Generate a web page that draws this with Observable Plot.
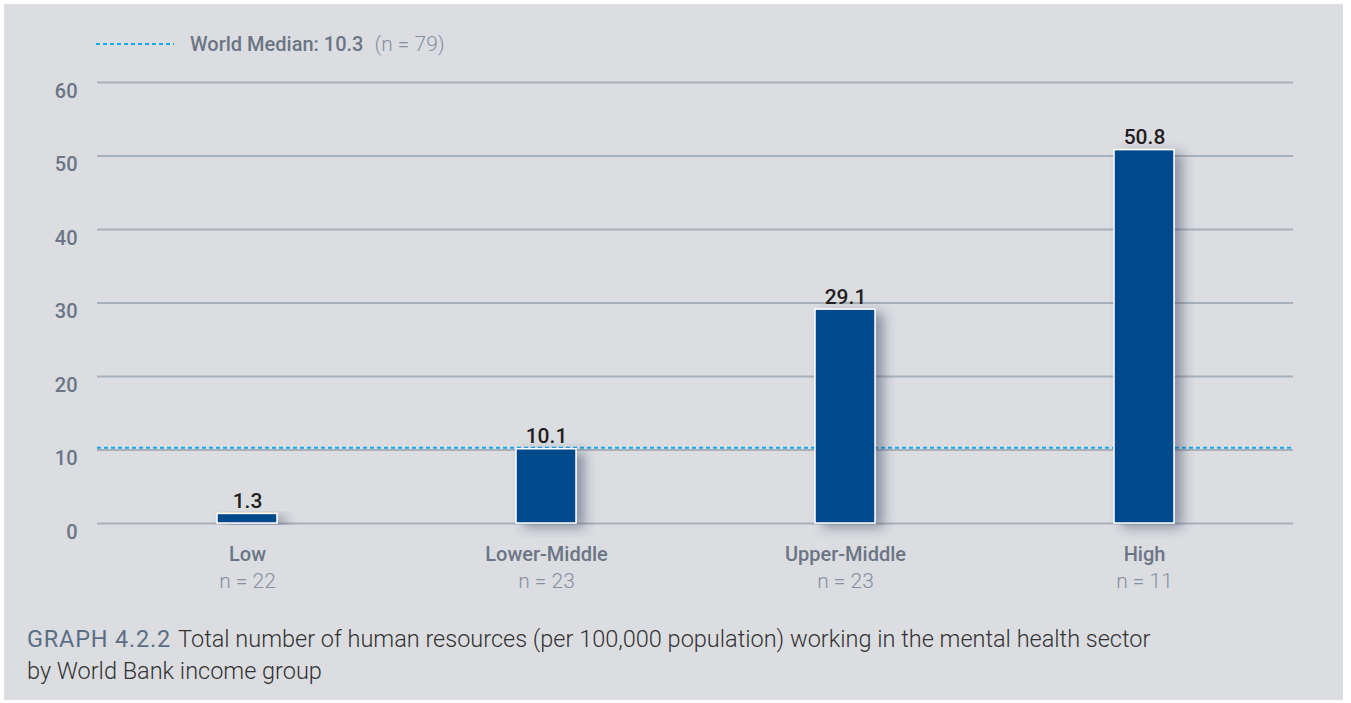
<!DOCTYPE html>
<html><head><meta charset="utf-8">
<script src="https://cdn.jsdelivr.net/npm/d3@7"></script>
<script src="https://cdn.jsdelivr.net/npm/@observablehq/plot@0.6"></script>
<style>
body{margin:0;background:#fff;font-family:Roboto,"Liberation Sans",sans-serif;}
#panel{position:absolute;left:4px;top:4px;width:1339px;height:696px;background:#dcdde1;overflow:hidden;}
#chart{position:absolute;left:-4px;top:56px;}
#chart svg{max-width:none !important;}
#legend{position:absolute;left:92px;top:24px;height:32px;display:flex;align-items:center;white-space:nowrap;}
#legend svg{display:block;margin-right:16px;}
#legend .b{font-size:20px;font-weight:500;color:#6b7585;}
#legend .n{font-size:21px;font-weight:300;color:#8790a0;margin-left:11px;}
#caption{position:absolute;left:23px;top:619px;font-size:23.5px;line-height:32px;color:#333;font-weight:300;white-space:nowrap;}
#caption .g{color:#5a6f87;font-weight:400;margin-right:7px;letter-spacing:0.8px;}
</style>
</head><body>
<div id="panel">
  <div id="legend"></div>
  <div id="chart"></div>
  <div id="caption"></div>
</div>
<script>
const categories = ["Low", "Lower-Middle", "Upper-Middle", "High"];
const values = [1.3, 10.1, 29.1, 50.8];
const counts = ["n = 22", "n = 23", "n = 23", "n = 11"];
const yTicks = [0, 10, 20, 30, 40, 50, 60];
const worldMedian = 10.3;
const worldN = 79;
const captionLabel = "GRAPH 4.2.2";
const captionText = ["Total number of human resources (per 100,000 population) working in the mental health sector", "by World Bank income group"];

const rows = categories.map((c, i) => ({category: c, value: values[i], n: counts[i]}));

const barColor = "#004a8c";
const medianColor = "#14a9e8";
const gridColor = "#a8b0b9";
const axisText = "#6b7585";

const chart = Plot.plot({
  width: 1351,
  height: 540,
  marginLeft: 97,
  marginRight: 58,
  marginTop: 22,
  marginBottom: 77,
  style: {fontFamily: "Roboto, 'Liberation Sans', sans-serif", background: "transparent", overflow: "visible", maxWidth: "none"},
  x: {domain: categories, paddingInner: 0.8, paddingOuter: 0.4, axis: null},
  y: {domain: [0, 60]},
  marks: [
    Plot.ruleY(yTicks, {stroke: gridColor, strokeWidth: 2}),
    Plot.axisY({ticks: yTicks, tickSize: 0, tickPadding: 20, fontSize: 20, fontWeight: 500, fill: axisText, dy: 9, label: null}),
    Plot.ruleY([worldMedian], {stroke: medianColor, strokeWidth: 2, strokeDasharray: "4,3"}),
    Plot.barY(rows, {x: "category", y: "value", fill: barColor, stroke: "white", strokeWidth: 1.5}),
    Plot.text(rows, {x: "category", y: "value", text: d => d.value.toFixed(1), lineAnchor: "bottom", dy: -6, fontSize: 21, fontWeight: 500, fill: "#231f20"}),
    Plot.text(rows, {x: "category", frameAnchor: "bottom", lineAnchor: "middle", text: "category", dy: 31, fontSize: 20, fontWeight: 500, fill: axisText}),
    Plot.text(rows, {x: "category", frameAnchor: "bottom", lineAnchor: "middle", text: "n", dy: 58, fontSize: 21, fontWeight: 300, fill: "#8790a0"})
  ]
});

// drop shadow on bars
const svg = d3.select(chart);
const defs = svg.insert("defs", ":first-child");
const f = defs.append("filter").attr("id", "barShadow").attr("x", "-50%").attr("y", "-20%").attr("width", "200%").attr("height", "140%");
f.append("feDropShadow").attr("dx", 8).attr("dy", 4).attr("stdDeviation", 6).attr("flood-color", "#2b3a5a").attr("flood-opacity", 0.45);
svg.selectAll('g[aria-label="bar"] rect').attr("filter", "url(#barShadow)");

document.getElementById("chart").appendChild(chart);

// legend
const legend = d3.select("#legend");
const ls = legend.append("svg").attr("width", 78).attr("height", 4);
ls.append("line").attr("x1", 0).attr("x2", 78).attr("y1", 2).attr("y2", 2)
  .attr("stroke", medianColor).attr("stroke-width", 2).attr("stroke-dasharray", "4,3");
legend.append("span").attr("class", "b").text(`World Median: ${worldMedian}`);
legend.append("span").attr("class", "n").text(`(n = ${worldN})`);

// caption
const cap = d3.select("#caption");
const l1 = cap.append("div");
l1.append("span").attr("class", "g").text(captionLabel);
l1.append("span").text(captionText[0]);
cap.append("div").text(captionText[1]);
</script>
</body></html>
